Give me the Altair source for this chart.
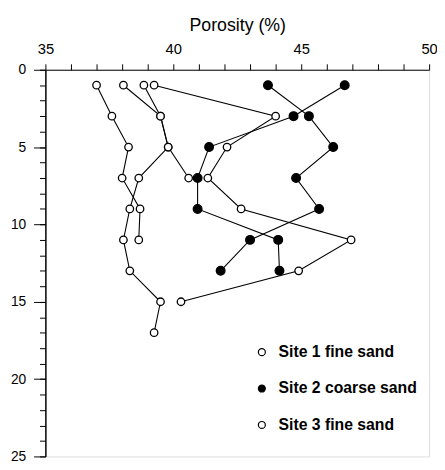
import altair as alt
import pandas as pd

# ---- data ----
site_names = ["Site 1 fine sand", "Site 2 coarse sand", "Site 3 fine sand"]

# Site 1 fine sand (two profiles)
s1a_depth = [1, 3, 5, 7, 9, 11]
s1a_por = [37.0, 37.6, 38.25, 38.0, 38.7, 38.65]
s1b_depth = [1, 3, 5, 7, 9, 11, 13, 15, 17]
s1b_por = [38.05, 39.5, 39.8, 38.65, 38.3, 38.05, 38.3, 39.5, 39.25]

# Site 2 coarse sand (two profiles)
s2a_depth = [1, 3, 5, 7, 9, 11, 13]
s2a_por = [43.7, 45.3, 46.25, 44.8, 45.7, 43.0, 41.85]
s2b_depth = [1, 3, 5, 7, 9, 11, 13]
s2b_por = [46.7, 44.7, 41.4, 40.95, 40.95, 44.1, 44.15]

# Site 3 fine sand (two profiles)
s3a_depth = [1, 3, 5, 7]
s3a_por = [38.85, 39.5, 39.8, 40.6]
s3b_depth = [1, 3, 5, 7, 9, 11, 13, 15]
s3b_por = [39.25, 44.0, 42.1, 41.35, 42.65, 46.95, 44.9, 40.3]

x_ticks = list(range(35, 51))
y_ticks_major = [0, 5, 10, 15, 20, 25]
y_ticks_minor = list(range(0, 26))

profiles = [
    ("s1a", site_names[0], s1a_depth, s1a_por),
    ("s1b", site_names[0], s1b_depth, s1b_por),
    ("s2a", site_names[1], s2a_depth, s2a_por),
    ("s2b", site_names[1], s2b_depth, s2b_por),
    ("s3a", site_names[2], s3a_depth, s3a_por),
    ("s3b", site_names[2], s3b_depth, s3b_por),
]
rows = []
for pid, site, ds, ps in profiles:
    for d, p in zip(ds, ps):
        rows.append({"profile": pid, "site": site, "depth": d, "porosity": p})
df = pd.DataFrame(rows)

FONT = "Liberation Sans"

x_axis = alt.Axis(
    orient="top", values=x_ticks, title="Porosity (%)",
    labelExpr="datum.value % 5 === 0 ? datum.label : ''",
    tickSize=6, labelPadding=7, titlePadding=8, grid=False,
    domainColor="black", tickColor="black", labelColor="black",
    labelFont=FONT, labelFontSize=15, titleFont=FONT, titleFontSize=18,
    titleFontWeight="normal", titleColor="black", labelFlush=False,
)
x_enc = alt.X("porosity:Q", scale=alt.Scale(domain=[35, 50], nice=False, zero=False), axis=x_axis)
y_scale = alt.Scale(domain=[0, 25], reverse=True, nice=False, zero=False)

lines = alt.Chart(df).mark_line(color="black", strokeWidth=1.1).encode(
    x=x_enc,
    y=alt.Y("depth:Q", scale=y_scale, axis=alt.Axis(
        orient="left", values=y_ticks_minor, labels=False, title=None,
        tickSize=6, grid=False, domainColor="black", tickColor="black")),
    detail="profile:N",
    order="depth:Q",
)

points = alt.Chart(df).mark_point(
    filled=True, shape="circle", stroke="black", strokeWidth=1.3, opacity=1
).encode(
    x=x_enc,
    y=alt.Y("depth:Q", scale=y_scale, axis=alt.Axis(
        orient="left", values=y_ticks_major, title=None, tickSize=12,
        labelPadding=8, grid=False, domainColor="black", tickColor="black",
        labelColor="black", labelFont=FONT, labelFontSize=14)),
    fill=alt.Fill("site:N", scale=alt.Scale(domain=site_names, range=["white", "black", "white"]),
                  legend=alt.Legend(
                      title=None, orient="none", legendX=212, legendY=279,
                      symbolType="circle", symbolSize=50, symbolStrokeColor="black",
                      symbolStrokeWidth=1.2, labelFont=FONT, labelFontSize=16,
                      labelFontWeight="bold", labelColor="black", labelOffset=9,
                      rowPadding=21, padding=0)),
    size=alt.condition(alt.datum.site == site_names[1], alt.value(78), alt.value(58)),
)

chart = alt.layer(lines, points).resolve_axis(y="independent").properties(
    width=390, height=393, autosize="none",
    padding={"left": 38, "top": 59, "right": 8, "bottom": 8},
).configure_view(stroke=None).configure(background="white")

chart.save("out.html", embed_options={"renderer": "svg", "actions": False})
